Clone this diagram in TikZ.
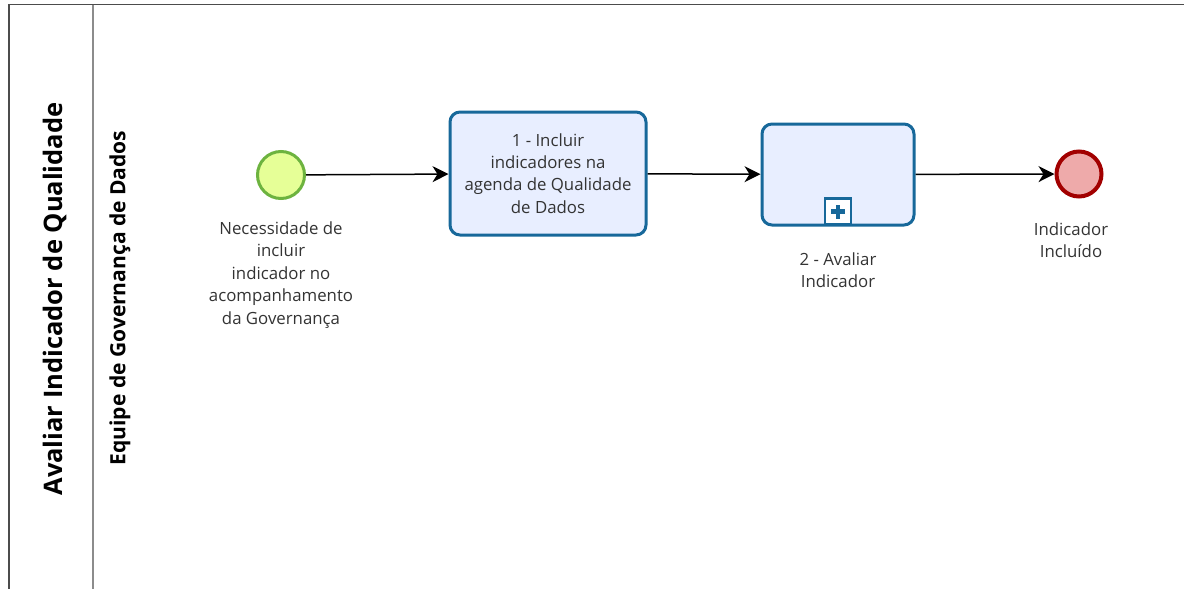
\documentclass[tikz,border=0pt]{standalone}
\usepackage{fontspec}
\setmainfont{Open Sans}
\usetikzlibrary{arrows.meta}
\definecolor{taskline}{HTML}{17689A}
\definecolor{taskfill}{HTML}{E8EEFF}
\definecolor{startline}{HTML}{6DB33F}
\definecolor{startfill}{HTML}{E6FF97}
\definecolor{endline}{HTML}{A20000}
\definecolor{endfill}{HTML}{EEAAAA}
\definecolor{labeltext}{HTML}{333333}
\tikzset{
  task/.style={draw=taskline, fill=taskfill, line width=3pt, rounded corners=10pt, align=center, text=labeltext, font=\fontsize{16.8}{22.3}\selectfont},
  startevent/.style={circle, draw=startline, fill=startfill, line width=3pt, minimum size=47pt, inner sep=0pt},
  endevent/.style={circle, draw=endline, fill=endfill, line width=4pt, minimum size=45pt, inner sep=0pt},
  evlabel/.style={align=center, text=labeltext, font=\fontsize{16.8}{22.5}\selectfont},
  flow/.style={-{Stealth[length=16pt,width=16pt,inset=5pt]}, line width=1.5pt}
}
\begin{document}
\begin{tikzpicture}[x=1pt,y=-1pt]
\useasboundingbox (0,0) rectangle (1184,589);
% pool and lane
\draw[line width=1.5pt, black!70] (9,589) -- (9,4.5) -- (1184,4.5);
\draw[line width=1.5pt, black!45] (93,4.5) -- (93,589);
\node[rotate=90, font=\fontsize{25.5}{30}\selectfont\bfseries] (pool) at (55,299) {Avaliar Indicador de Qualidade};
\node[rotate=90, font=\fontsize{21}{25}\selectfont\bfseries] (lane) at (120,298) {Equipe de Governança de Dados};
% events and tasks
\node[startevent] (start) at (281,175) {};
\node[evlabel, anchor=north] (startlbl) at (281,218) {Necessidade de\\incluir\\indicador no\\acompanhamento\\da Governança};
\node[task, minimum width=196pt, minimum height=123pt] (incluir) at (548,173.5) {1 - Incluir\\indicadores na\\agenda de Qualidade\\de Dados};
\node[task, minimum width=152pt, minimum height=101pt] (avaliar) at (838,174.5) {};
\node[evlabel, anchor=north] (avaliarlbl) at (838,249) {2 - Avaliar\\Indicador};
\node[endevent] (fim) at (1079,174) {};
\node[evlabel, anchor=north] (fimlbl) at (1071,219) {Indicador\\Incluído};
% subprocess marker
\node[draw=taskline, fill=white, line width=2.5pt, minimum size=26pt, inner sep=0pt] (marker) at (838,211.5) {};
\draw[taskline, line width=4.5pt] ([xshift=-7pt]marker.center) -- ([xshift=7pt]marker.center);
\draw[taskline, line width=4.5pt] ([yshift=-7pt]marker.center) -- ([yshift=7pt]marker.center);
% flows
\draw[flow] (start) -- (incluir);
\draw[flow] (incluir) -- (avaliar);
\draw[flow] (avaliar) -- (fim);
\end{tikzpicture}
\end{document}
